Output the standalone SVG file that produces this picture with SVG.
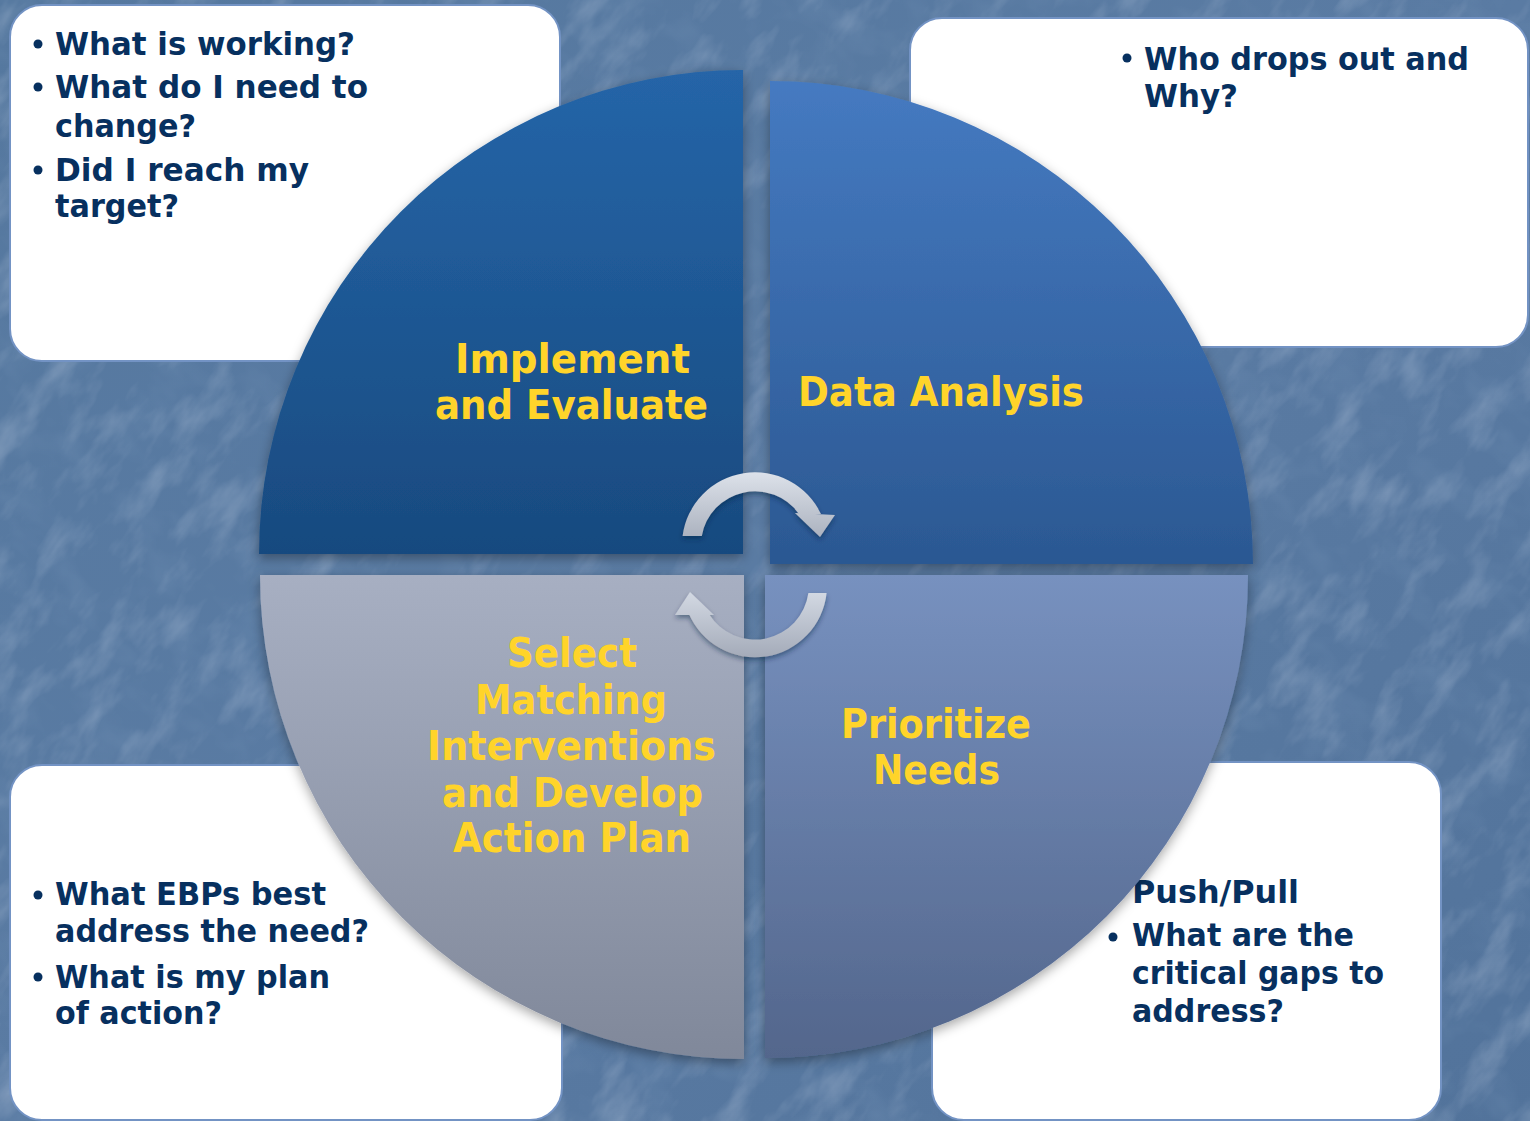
<svg xmlns="http://www.w3.org/2000/svg" width="1530" height="1121" viewBox="0 0 1530 1121">
<defs>
<style>
.box{fill:#ffffff;stroke:#7393c4;stroke-width:2}
.q{font-family:"DejaVu Sans","Liberation Sans",sans-serif;font-weight:bold;font-size:32px;fill:#07305f}
.lbl{font-family:"DejaVu Sans","Liberation Sans",sans-serif;font-weight:bold;font-size:41px;fill:#ffd42a}
.dot{fill:#07305f}
</style>
<linearGradient id="bg" x1="0" y1="0" x2="1" y2="1">
<stop offset="0" stop-color="#55789f"/>
<stop offset="0.5" stop-color="#5a7ba3"/>
<stop offset="1" stop-color="#52739b"/>
</linearGradient>
<filter id="tex" x="0" y="0" width="100%" height="100%">
<feTurbulence type="fractalNoise" baseFrequency="0.015 0.035" numOctaves="4" seed="7"/>
<feColorMatrix type="matrix" values="0 0 0 0 0.85  0 0 0 0 0.9  0 0 0 0 1  1.0 0 0 0 -0.48"/>
</filter>
<filter id="tex2" x="0" y="0" width="100%" height="100%">
<feTurbulence type="fractalNoise" baseFrequency="0.03 0.02" numOctaves="3" seed="2"/>
<feColorMatrix type="matrix" values="0 0 0 0 0.2  0 0 0 0 0.32  0 0 0 0 0.5  0 1.0 0 0 -0.45"/>
</filter>
<filter id="sh" x="-10%" y="-10%" width="120%" height="125%">
<feDropShadow dx="0" dy="4" stdDeviation="6" flood-color="#000" flood-opacity="0.35"/>
</filter>
<filter id="ash" x="-20%" y="-20%" width="140%" height="150%">
<feDropShadow dx="0" dy="3" stdDeviation="2.5" flood-color="#102040" flood-opacity="0.45"/>
</filter>
<linearGradient id="gTL" gradientUnits="userSpaceOnUse" x1="0" y1="70" x2="0" y2="554">
<stop offset="0" stop-color="#2565a8"/>
<stop offset="1" stop-color="#184a7f"/>
</linearGradient>
<linearGradient id="gTR" gradientUnits="userSpaceOnUse" x1="0" y1="81" x2="0" y2="564">
<stop offset="0" stop-color="#457ac1"/>
<stop offset="1" stop-color="#2b5892"/>
</linearGradient>
<linearGradient id="gBL" gradientUnits="userSpaceOnUse" x1="0" y1="575" x2="0" y2="1059">
<stop offset="0" stop-color="#a7afc2"/>
<stop offset="1" stop-color="#80889a"/>
</linearGradient>
<linearGradient id="gBR" gradientUnits="userSpaceOnUse" x1="0" y1="575" x2="0" y2="1058">
<stop offset="0" stop-color="#7791bf"/>
<stop offset="1" stop-color="#53668c"/>
</linearGradient>
<linearGradient id="gA1" gradientUnits="userSpaceOnUse" x1="0" y1="472" x2="0" y2="540">
<stop offset="0" stop-color="#dde2ea"/>
<stop offset="1" stop-color="#a9b0bd"/>
</linearGradient>
<linearGradient id="gA2" gradientUnits="userSpaceOnUse" x1="0" y1="592" x2="0" y2="657">
<stop offset="0" stop-color="#d3d9e3"/>
<stop offset="1" stop-color="#a4abb9"/>
</linearGradient>
</defs>

<g id="background">
<rect x="0" y="0" width="1530" height="1121" fill="url(#bg)"/>
<g transform="rotate(-55 765 560)" opacity="0.5">
<rect x="-400" y="-500" width="2330" height="2120" filter="url(#tex2)"/>
<rect x="-400" y="-500" width="2330" height="2120" filter="url(#tex)"/>
</g>
</g>

<g id="box-implement">
<rect class="box" x="10" y="5" width="550" height="356" rx="32"/>
<circle class="dot" cx="38" cy="44" r="4.5"/>
<text class="q" x="55" y="55" textLength="300" lengthAdjust="spacingAndGlyphs">What is working?</text>
<circle class="dot" cx="38" cy="87" r="4.5"/>
<text class="q" x="55" y="98" textLength="313" lengthAdjust="spacingAndGlyphs">What do I need to</text>
<text class="q" x="55" y="137" textLength="141" lengthAdjust="spacingAndGlyphs">change?</text>
<circle class="dot" cx="38" cy="170" r="4.5"/>
<text class="q" x="55" y="181" textLength="254" lengthAdjust="spacingAndGlyphs">Did I reach my</text>
<text class="q" x="55" y="217" textLength="124" lengthAdjust="spacingAndGlyphs">target?</text>
</g>

<g id="box-data">
<rect class="box" x="910" y="18" width="618" height="329" rx="32"/>
<circle class="dot" cx="1127" cy="58" r="4.5"/>
<text class="q" x="1144" y="70" textLength="325" lengthAdjust="spacingAndGlyphs">Who drops out and</text>
<text class="q" x="1144" y="107" textLength="94" lengthAdjust="spacingAndGlyphs">Why?</text>
</g>

<g id="box-select">
<rect class="box" x="10" y="765" width="552" height="355" rx="32"/>
<circle class="dot" cx="38" cy="895" r="4.5"/>
<text class="q" x="55" y="905" textLength="271" lengthAdjust="spacingAndGlyphs">What EBPs best</text>
<text class="q" x="55" y="942" textLength="314" lengthAdjust="spacingAndGlyphs">address the need?</text>
<circle class="dot" cx="38" cy="977" r="4.5"/>
<text class="q" x="55" y="988" textLength="275" lengthAdjust="spacingAndGlyphs">What is my plan</text>
<text class="q" x="55" y="1024" textLength="167" lengthAdjust="spacingAndGlyphs">of action?</text>
</g>

<g id="box-prioritize">
<rect class="box" x="932" y="762" width="509" height="358" rx="32"/>
<text class="q" x="1132" y="903" textLength="167" lengthAdjust="spacingAndGlyphs">Push/Pull</text>
<circle class="dot" cx="1113" cy="937" r="4.5"/>
<text class="q" x="1132" y="946" textLength="222" lengthAdjust="spacingAndGlyphs">What are the</text>
<text class="q" x="1132" y="984" textLength="252" lengthAdjust="spacingAndGlyphs">critical gaps to</text>
<text class="q" x="1132" y="1022" textLength="152" lengthAdjust="spacingAndGlyphs">address?</text>
</g>

<g id="quadrant-implement">
<path d="M743,554 L259,554 A484,484 0 0 1 743,70 Z" fill="url(#gTL)" filter="url(#sh)"/>
<text class="lbl" x="455" y="373" textLength="235" lengthAdjust="spacingAndGlyphs">Implement</text>
<text class="lbl" x="435" y="419" textLength="273" lengthAdjust="spacingAndGlyphs">and Evaluate</text>
</g>

<g id="quadrant-data">
<path d="M770,564 L770,81 A483,483 0 0 1 1253,564 Z" fill="url(#gTR)" filter="url(#sh)"/>
<text class="lbl" x="798" y="406" textLength="286" lengthAdjust="spacingAndGlyphs">Data Analysis</text>
</g>

<g id="quadrant-select">
<path d="M744,575 L744,1059 A484,484 0 0 1 260,575 Z" fill="url(#gBL)" filter="url(#sh)"/>
<text class="lbl" x="507" y="667" textLength="130" lengthAdjust="spacingAndGlyphs">Select</text>
<text class="lbl" x="475" y="714" textLength="192" lengthAdjust="spacingAndGlyphs">Matching</text>
<text class="lbl" x="427" y="760" textLength="289" lengthAdjust="spacingAndGlyphs">Interventions</text>
<text class="lbl" x="442" y="807" textLength="261" lengthAdjust="spacingAndGlyphs">and Develop</text>
<text class="lbl" x="453" y="852" textLength="238" lengthAdjust="spacingAndGlyphs">Action Plan</text>
</g>

<g id="quadrant-prioritize">
<path d="M765,575 L1248,575 A483,483 0 0 1 765,1058 Z" fill="url(#gBR)" filter="url(#sh)"/>
<text class="lbl" x="841" y="738" textLength="190" lengthAdjust="spacingAndGlyphs">Prioritize</text>
<text class="lbl" x="873" y="784" textLength="127" lengthAdjust="spacingAndGlyphs">Needs</text>
</g>

<g id="connectors">
<g filter="url(#ash)" fill="url(#gA1)">
<path d="M682.6,536 A73,73 0 0 1 821,514 L799,514 A54,54 0 0 0 701.8,536 Z"/>
<polygon points="795,513 835,515 820,537"/>
</g>
<g filter="url(#ash)" fill="url(#gA2)">
<path d="M826.6,593 A72,72 0 0 1 689,614 L709,614 A54,54 0 0 0 808.4,593 Z"/>
<polygon points="675,615 714,615 690,592"/>
</g>
</g>
</svg>
